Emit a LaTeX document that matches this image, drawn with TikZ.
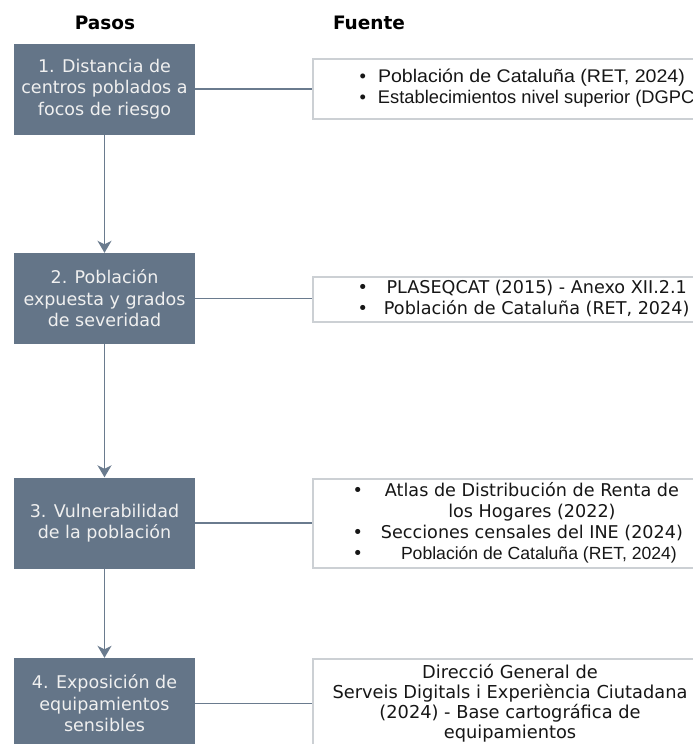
\documentclass[tikz,border=0pt]{standalone}
\usepackage{fontspec}
\setmainfont{DejaVu Sans}
\newfontfamily\arialf{Liberation Sans}
\newfontfamily\arialancha[FakeStretch=1.07]{Liberation Sans}
\usetikzlibrary{arrows.meta,positioning}

\definecolor{pizarra}{RGB}{100,117,136}
\definecolor{linea}{RGB}{106,123,142}
\definecolor{borde}{RGB}{204,208,212}
\definecolor{tinta}{RGB}{22,22,22}

\tikzset{
    paso/.style={fill=pizarra, text=white!94!black, minimum width=181pt, minimum height=91pt,
        align=center, inner sep=0pt, font=\fontsize{17.5}{21.5}\selectfont},
    fuente/.style={draw=borde, line width=1.2pt, fill=white, minimum width=394pt, inner sep=0pt},
    textofuente/.style={text=tinta, inner sep=0pt, align=center, font=\fontsize{17.6}{21}\selectfont},
    titulo/.style={font=\bfseries\fontsize{18.5}{22}\selectfont},
    conector/.style={draw=linea, line width=1.7pt},
    flecha/.style={conector, -{Stealth[length=12pt,width=14pt,inset=3.5pt]}}
}

\begin{document}
\begin{tikzpicture}[x=1pt,y=-1pt]
    \useasboundingbox (0,0) rectangle (693,744);
    \clip (0,0) rectangle (693,744);

    % Encabezados
    \node[titulo] (pasos) at (105,23) {Pasos};
    \node[titulo] (fuente) at (369,23) {Fuente};

    % Pasos
    \node[paso] (p1) at (104.5,89) {1. Distancia de\\centros poblados a\\focos de riesgo};
    \node[paso] (p2) at (104.5,298.5) {2. Población\\expuesta y grados\\de severidad};
    \node[paso] (p3) at (104.5,523) {3. Vulnerabilidad\\de la población};
    \node[paso] (p4) at (104.5,703.5) {4. Exposición de\\equipamientos\\sensibles};

    % Fuentes
    \node[fuente, minimum height=60pt] (f1) at (510,89) {};
    \node[fuente, minimum height=45pt] (f2) at (510,299.5) {};
    \node[fuente, minimum height=89pt] (f3) at (510,523.5) {};
    \node[fuente, minimum height=89pt] (f4) at (510,703.5) {};

    \node[textofuente, anchor=west, font=\arialf\fontsize{18.3}{21}\selectfont] (t1) at ([xshift=47pt]f1.west)
        {\begin{tabular}{@{}c@{\hspace{12pt}}l@{}}
            \textbullet & {\arialancha Población de Cataluña (RET, 2024)}\\
            \textbullet & Establecimientos nivel superior (DGPC)
        \end{tabular}};
    \node[textofuente, anchor=west] (t2) at ([xshift=45pt]f2.west)
        {\begin{tabular}{@{}c@{\hspace{16pt}}c@{}}
            \textbullet & PLASEQCAT (2015) - Anexo XII.2.1\\
            \textbullet & Población de Cataluña (RET, 2024)
        \end{tabular}};
    \node[textofuente, anchor=west] (t3) at ([xshift=40pt]f3.west)
        {\begin{tabular}{@{}c@{\hspace{18pt}}c@{}}
            \textbullet & Atlas de Distribución de Renta de\\
                        & los Hogares (2022)\\
            \textbullet & Secciones censales del INE (2024)\\
            \textbullet & \hspace{14pt}{\arialf Población de Cataluña (RET, 2024)}
        \end{tabular}};
    \node[textofuente, font=\fontsize{17.8}{20}\selectfont] (t4) at (f4.center)
        {Direcció General de\\Serveis Digitals i Experiència Ciutadana\\(2024) - Base cartográfica de\\equipamientos};

    % Conectores
    \foreach \i in {1,...,4}
        \draw[conector] (p\i.east) -- (p\i.east -| f\i.west);
    \draw[flecha] (p1) -- (p2);
    \draw[flecha] (p2) -- (p3);
    \draw[flecha] (p3) -- (p4);
\end{tikzpicture}
\end{document}
